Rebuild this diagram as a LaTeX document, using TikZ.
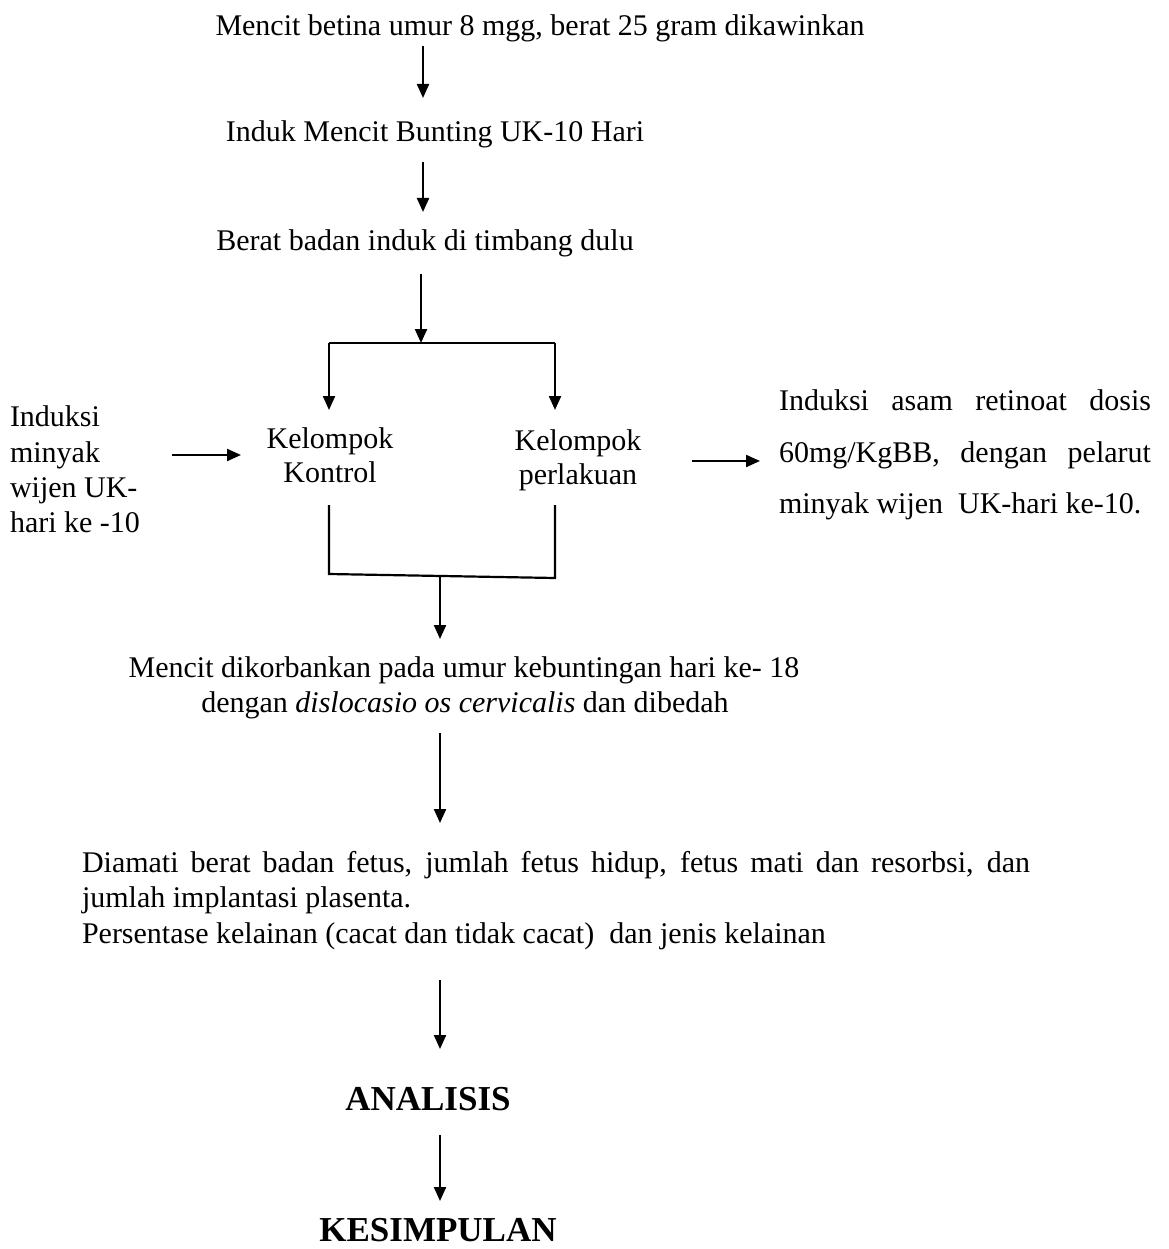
\documentclass[tikz,border=0pt]{standalone}
\usepackage{fontspec}
\setmainfont{Liberation Serif}
\usetikzlibrary{arrows.meta}
\begin{document}
\begin{tikzpicture}[x=1pt,y=-1pt,
  every node/.style={inner sep=0pt,outer sep=0pt,font=\fontsize{30}{36}\selectfont},
  txt/.style={anchor=base},
  ltxt/.style={anchor=base west},
  arr/.style={line width=2.2pt,-{Triangle[length=14pt,width=12pt]}},
  ln/.style={line width=2.2pt},
  bold/.style={font=\fontsize{35}{40}\selectfont\bfseries}]
\useasboundingbox[fill=white] (0,0) rectangle (1168,1249);
% top chain
\node[txt] (t1) at (540,36) {Mencit betina umur 8 mgg, berat 25 gram dikawinkan};
\node[txt] (t2) at (435,142) {Induk Mencit Bunting UK-10 Hari};
\node[txt] (t3) at (425,251) {Berat badan induk di timbang dulu};
\coordinate (a1s) at (423,46); \coordinate (a1e) at (423,98);
\draw[arr] (a1s) -- (a1e);
\coordinate (a2s) at (423,162); \coordinate (a2e) at (423,212);
\draw[arr] (a2s) -- (a2e);
\coordinate (a3s) at (421,274); \coordinate (split) at (421,343);
\draw[arr] (a3s) -- (split);
% split
\coordinate (sl) at (329,343); \coordinate (sr) at (555,343);
\node[txt] (k1a) at (330,448) {Kelompok};
\node[txt] (k1b) at (330,482) {Kontrol};
\node[txt] (k2a) at (578,450) {Kelompok};
\node[txt] (k2b) at (578,484) {perlakuan};
\coordinate (k1t) at (329,410); \coordinate (k2t) at (555,410);
\draw[ln] (sl) -- (sr);
\draw[arr] (sl) -- (k1t);
\draw[arr] (sr) -- (k2t);
% left side
\node[ltxt] (l1) at (10,426) {Induksi};
\node[ltxt] (l2) at (10,462) {minyak};
\node[ltxt] (l3) at (10,497) {wijen UK-};
\node[ltxt] (l4) at (10,532) {hari ke -10};
\coordinate (la) at (172,455); \coordinate (lb) at (241,455);
\draw[arr] (la) -- (lb);
% right side
\coordinate (ra) at (692,461); \coordinate (rb) at (760,461);
\draw[arr] (ra) -- (rb);
\node[ltxt] (r1) at (779,410) {\makebox[372pt][s]{Induksi asam retinoat dosis}};
\node[ltxt] (r2) at (779,462) {\makebox[372pt][s]{60mg/KgBB, dengan pelarut}};
\node[ltxt] (r3) at (779,513) {minyak wijen\ \ UK-hari ke-10.};
% merge
\coordinate (m1) at (329,505); \coordinate (m2) at (555,505);
\coordinate (m1b) at (329,574); \coordinate (m2b) at (555,578);
\coordinate (mc) at (440,576); \coordinate (me) at (440,639);
\draw[ln] (m1) -- (m1b) -- (m2b) -- (m2);
\draw[arr] (mc) -- (me);
% sacrifice
\node[txt] (s1) at (464,677) {Mencit dikorbankan pada umur kebuntingan hari ke- 18};
\node[txt] (s2) at (465,712) {dengan \textit{dislocasio os cervicalis} dan dibedah};
\coordinate (b1) at (440,733); \coordinate (b2) at (440,823);
\draw[arr] (b1) -- (b2);
% observation
\node[ltxt] (o1) at (82,872) {\makebox[948pt][s]{Diamati berat badan fetus, jumlah fetus hidup, fetus mati dan resorbsi, dan}};
\node[ltxt] (o2) at (82,907) {jumlah implantasi plasenta.};
\node[ltxt] (o3) at (82,943) {Persentase kelainan (cacat dan tidak cacat)\ \ dan jenis kelainan};
\coordinate (c1) at (440,980); \coordinate (c2) at (440,1049);
\draw[arr] (c1) -- (c2);
\node[txt,bold] (an) at (428,1110) {ANALISIS};
\coordinate (d1) at (440,1135); \coordinate (d2) at (440,1201);
\draw[arr] (d1) -- (d2);
\node[txt,bold] (ks) at (438,1241) {KESIMPULAN};
\end{tikzpicture}
\end{document}
